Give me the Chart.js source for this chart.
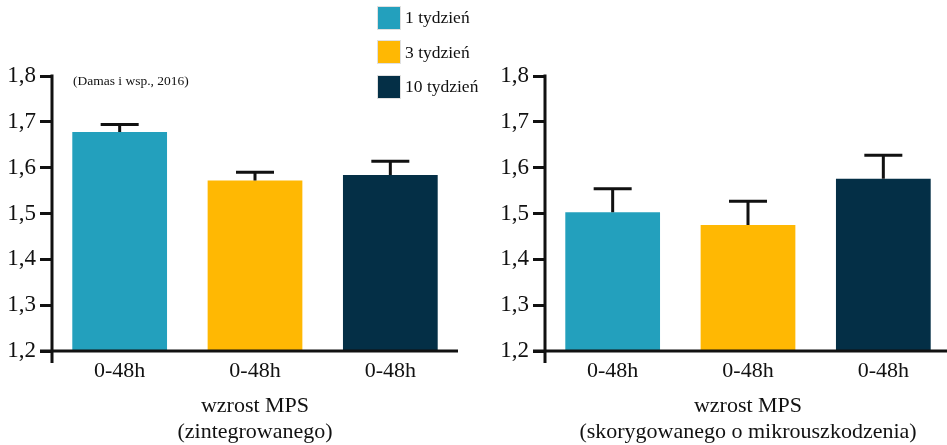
<!DOCTYPE html>
<html>
<head>
<meta charset="utf-8">
<script src="https://cdn.jsdelivr.net/npm/chart.js@4.4.0/dist/chart.umd.min.js"></script>
<style>
  body { margin: 0; width: 947px; height: 445px; overflow: hidden; background: #fff; position: relative; font-family: "Liberation Serif", serif; color: #111; }
  #left { position: absolute; left: 0; top: 0; }
  #right { position: absolute; left: 480px; top: 0; }
  .leg { position: absolute; left: 378px; height: 23px; display: flex; align-items: center; font-size: 17.5px; white-space: nowrap; }
  .leg span.box { display: inline-block; width: 22px; height: 22px; margin-right: 5px; box-shadow: 0 0 0 1px rgba(0,0,0,0.12); }
  #note { position: absolute; left: 73px; top: 73px; font-size: 13.5px; white-space: nowrap; }
</style>
</head>
<body>
<canvas id="left" width="470" height="445"></canvas>
<canvas id="right" width="475" height="445"></canvas>
<div id="legend"></div>
<div id="note">(Damas i wsp., 2016)</div>
<script>
// dane
const weeks = ['1 tydzień', '3 tydzień', '10 tydzień'];
const timeLabels = ['0-48h', '0-48h', '0-48h'];
const integrated = [1.678, 1.572, 1.584];
const integratedErr = [0.016, 0.018, 0.030];
const corrected = [1.503, 1.475, 1.576];
const correctedErr = [0.051, 0.052, 0.051];
const titleLeft = ['wzrost MPS', '(zintegrowanego)'];
const titleRight = ['wzrost MPS', '(skorygowanego o mikrouszkodzenia)'];
const colors = ['#23a0bd', '#ffb803', '#042f46'];

// legenda html
const legend = document.getElementById('legend');
weeks.forEach((w, i) => {
  const d = document.createElement('div');
  d.className = 'leg';
  d.style.top = (6 + i * 34.5) + 'px';
  d.innerHTML = '<span class="box" style="background:' + colors[i] + '"></span>' + w;
  legend.appendChild(d);
});

// slupki bledu + osie
const errorBars = {
  id: 'errorBars',
  afterDatasetsDraw(chart) {
    const ctx = chart.ctx;
    const y = chart.scales.y;
    const area = chart.chartArea;
    const ds = chart.data.datasets[0];
    ctx.save();
    ctx.strokeStyle = '#111';
    ctx.lineWidth = 3;
    chart.getDatasetMeta(0).data.forEach((bar, i) => {
      const top = y.getPixelForValue(ds.data[i] + ds.errors[i]);
      ctx.beginPath();
      ctx.moveTo(bar.x, bar.y);
      ctx.lineTo(bar.x, top);
      ctx.moveTo(bar.x - 19, top);
      ctx.lineTo(bar.x + 19, top);
      ctx.stroke();
    });
    // osie
    ctx.beginPath();
    ctx.moveTo(area.left, y.getPixelForValue(1.8) - 1.5);
    ctx.lineTo(area.left, area.bottom + 12);
    ctx.moveTo(area.left - 12, area.bottom);
    ctx.lineTo(area.right, area.bottom);
    ctx.stroke();
    ctx.restore();
  }
};

function makeChart(id, values, errs, title, yWidth, padRight) {
  return new Chart(document.getElementById(id), {
    type: 'bar',
    data: {
      labels: timeLabels,
      datasets: [{
        data: values,
        errors: errs,
        backgroundColor: colors,
        barPercentage: 0.7,
        categoryPercentage: 1
      }]
    },
    options: {
      responsive: false,
      animation: false,
      layout: { padding: { top: 76, right: padRight, left: 0, bottom: 0 } },
      plugins: { legend: { display: false }, tooltip: { enabled: false } },
      scales: {
        x: {
          grid: { display: false },
          border: { display: false },
          ticks: { color: '#111', padding: -1, font: { family: 'Liberation Serif', size: 22 } },
          title: {
            display: true,
            text: title,
            color: '#111',
            padding: 0,
            font: { family: 'Liberation Serif', size: 22, lineHeight: 1.18 }
          },
          afterFit: (s) => { s.height = 94; }
        },
        y: {
          min: 1.2,
          max: 1.8,
          grid: { drawOnChartArea: false, drawTicks: true, tickLength: 12, lineWidth: 3, color: '#111' },
          border: { display: false },
          ticks: {
            stepSize: 0.1,
            padding: 4,
            color: '#111',
            font: { family: 'Liberation Serif', size: 23 },
            callback: (v) => v.toFixed(1).replace('.', ',')
          },
          afterFit: (s) => { s.width = yWidth; }
        }
      }
    },
    plugins: [errorBars]
  });
}

makeChart('left', integrated, integratedErr, titleLeft, 52, 12);
makeChart('right', corrected, correctedErr, titleRight, 65, 4);
</script>
</body>
</html>
